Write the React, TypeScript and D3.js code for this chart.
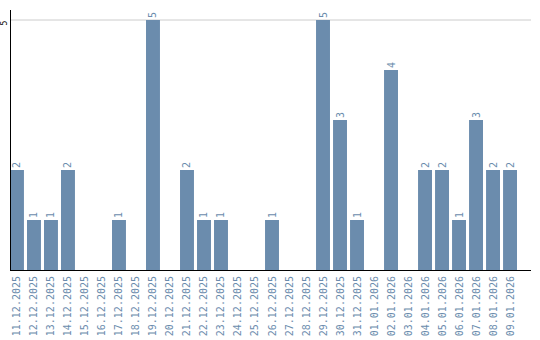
import React from "react";
import * as d3 from "d3";

const categories = [
  "11.12.2025","12.12.2025","13.12.2025","14.12.2025","15.12.2025","16.12.2025",
  "17.12.2025","18.12.2025","19.12.2025","20.12.2025","21.12.2025","22.12.2025",
  "23.12.2025","24.12.2025","25.12.2025","26.12.2025","27.12.2025","28.12.2025",
  "29.12.2025","30.12.2025","31.12.2025","01.01.2026","02.01.2026","03.01.2026",
  "04.01.2026","05.01.2026","06.01.2026","07.01.2026","08.01.2026","09.01.2026",
];
const values = [2,1,1,2,0,0,1,0,5,0,2,1,1,0,0,1,0,0,5,3,1,0,4,0,2,2,1,3,2,2];
const yTicks = [5];

const W = 540, H = 340;
const BAR = "#6b8cad";
const TXT = "#6b8cad";
const FONT = "'DejaVu Sans Mono', monospace";

export default function App() {
  const x = d3.scaleBand<string>().domain(categories).range([10, 517]).paddingInner(0.18).paddingOuter(0);
  const y = d3.scaleLinear().domain([0, 5]).range([270, 20]);
  const bw = x.bandwidth();
  return (
    <svg width={W} height={H} style={{ position: "absolute", left: 0, top: 0 }}>
      {yTicks.map((t) => (
        <g key={t}>
          <line x1={10} x2={531} y1={y(t)} y2={y(t)} stroke="#cccccc" strokeWidth={1} />
          <text transform={`translate(4,${y(t) + 3}) rotate(-90)`} textAnchor="middle" dominantBaseline="central" fontSize={8} fontFamily={FONT} fill="#000">{t}</text>
        </g>
      ))}
      {categories.map((c, i) => {
        const v = values[i];
        const bx = x(c)!;
        const cx = bx + bw / 2;
        return (
          <g key={c}>
            {v > 0 && <rect x={bx} y={y(v)} width={bw} height={y(0) - y(v)} fill={BAR} />}
            {v > 0 && (
              <text transform={`translate(${cx},${y(v) - 2}) rotate(-90)`} textAnchor="start" dominantBaseline="central" fontSize={10} fontFamily={FONT} fill={TXT}>{v}</text>
            )}
            <text transform={`translate(${cx},${276}) rotate(-90)`} textAnchor="end" dominantBaseline="central" fontSize={10} fontFamily={FONT} fill={TXT}>{c}</text>
          </g>
        );
      })}
      <line x1={10.5} x2={10.5} y1={10} y2={270} stroke="#000" strokeWidth={1} />
      <line x1={10} x2={531} y1={270.5} y2={270.5} stroke="#000" strokeWidth={1} />
    </svg>
  );
}
